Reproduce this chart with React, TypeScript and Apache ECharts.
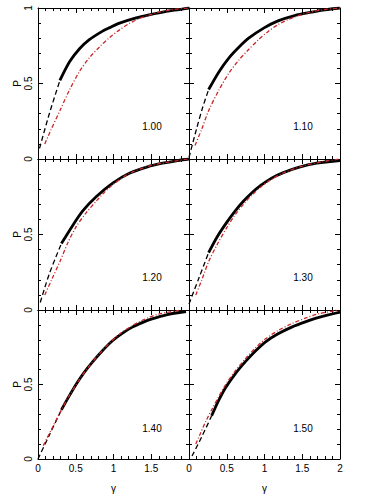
import React, { useEffect, useRef } from "react";
import * as echarts from "echarts";

const panelLabels = ["1.00", "1.10", "1.20", "1.30", "1.40", "1.50"];
const xTicks = [0, 0.5, 1, 1.5, 2];
const yTicks = [0, 0.5, 1];

const blackDash1 = [[0.02, 0.07], [0.15, 0.3], [0.29, 0.52]];
const blackSolid1 = [[0.29, 0.52], [0.42, 0.645], [0.55, 0.73], [0.68, 0.79], [0.85, 0.845], [0.95, 0.87], [1.08, 0.9], [1.3, 0.935], [1.47, 0.955], [1.7, 0.978], [1.87, 0.99], [2, 1.0]];
const red1 = [[0.09, 0.1], [0.16, 0.18], [0.29, 0.32], [0.42, 0.46], [0.55, 0.58], [0.68, 0.67], [0.82, 0.745], [0.95, 0.805], [1.08, 0.855], [1.2, 0.895], [1.34, 0.93], [1.47, 0.953], [1.6, 0.972], [1.8, 0.99], [2, 1.0]];

const blackDash2 = [[0.0, 0.01], [0.1, 0.2], [0.18, 0.34], [0.26, 0.46]];
const blackSolid2 = [[0.26, 0.46], [0.4, 0.58], [0.53, 0.67], [0.66, 0.74], [0.79, 0.8], [1.0, 0.87], [1.18, 0.915], [1.4, 0.95], [1.62, 0.972], [1.8, 0.988], [2, 1.0]];
const red2 = [[0.08, 0.09], [0.17, 0.2], [0.26, 0.32], [0.4, 0.46], [0.53, 0.57], [0.66, 0.655], [0.79, 0.725], [0.92, 0.79], [1.05, 0.845], [1.18, 0.89], [1.32, 0.925], [1.45, 0.95], [1.6, 0.972], [1.8, 0.99], [2, 1.0]];

const blackDash3 = [[0.03, 0.05], [0.15, 0.24], [0.31, 0.44]];
const blackSolid3 = [[0.31, 0.44], [0.46, 0.56], [0.59, 0.655], [0.77, 0.75], [0.99, 0.84], [1.21, 0.905], [1.45, 0.948], [1.65, 0.972], [1.85, 0.99], [2, 1.0]];
const red3 = [[0.09, 0.1], [0.18, 0.2], [0.29, 0.32], [0.4, 0.45], [0.51, 0.555], [0.64, 0.645], [0.77, 0.72], [0.88, 0.78], [0.99, 0.83], [1.1, 0.87], [1.21, 0.905], [1.45, 0.95], [1.7, 0.978], [2, 1.0]];

const blackDash4 = [[0.0, 0.04], [0.13, 0.21], [0.26, 0.38]];
const blackSolid4 = [[0.26, 0.38], [0.38, 0.49], [0.5, 0.58], [0.61, 0.655], [0.72, 0.72], [0.83, 0.775], [0.95, 0.825], [1.1, 0.875], [1.25, 0.91], [1.45, 0.945], [1.69, 0.972], [2, 0.99]];
const red4 = [[0.09, 0.1], [0.17, 0.2], [0.26, 0.32], [0.38, 0.44], [0.5, 0.545], [0.61, 0.63], [0.72, 0.7], [0.83, 0.76], [0.95, 0.815], [1.1, 0.868], [1.25, 0.908], [1.5, 0.953], [1.75, 0.98], [2, 1.0]];

const blackDash5 = [[0.0, 0.0], [0.15, 0.16], [0.31, 0.33]];
const blackSolid5 = [[0.31, 0.33], [0.41, 0.42], [0.51, 0.505], [0.61, 0.58], [0.72, 0.65], [0.85, 0.725], [0.99, 0.795], [1.12, 0.845], [1.25, 0.885], [1.38, 0.915], [1.51, 0.94], [1.7, 0.968], [1.96, 0.99]];
const red5 = [[0.07, 0.09], [0.18, 0.2], [0.29, 0.31], [0.42, 0.43], [0.55, 0.535], [0.68, 0.625], [0.82, 0.71], [0.95, 0.78], [1.08, 0.838], [1.21, 0.883], [1.34, 0.92], [1.47, 0.95], [1.6, 0.973], [1.87, 0.998]];

const blackDash6 = [[0.04, 0.02], [0.17, 0.15], [0.3, 0.29]];
const blackSolid6 = [[0.3, 0.29], [0.39, 0.39], [0.48, 0.475], [0.61, 0.57], [0.75, 0.655], [0.88, 0.725], [1.01, 0.785], [1.18, 0.84], [1.36, 0.885], [1.54, 0.92], [1.72, 0.95], [2, 0.985]];
const red6 = [[0.09, 0.1], [0.15, 0.17], [0.22, 0.25], [0.3, 0.33], [0.39, 0.415], [0.48, 0.495], [0.61, 0.59], [0.75, 0.675], [0.88, 0.745], [1.01, 0.805], [1.18, 0.862], [1.36, 0.908], [1.54, 0.945], [1.72, 0.975], [1.96, 0.998]];

const blackDashes = [blackDash1, blackDash2, blackDash3, blackDash4, blackDash5, blackDash6];
const blackSolids = [blackSolid1, blackSolid2, blackSolid3, blackSolid4, blackSolid5, blackSolid6];
const reds = [red1, red2, red3, red4, red5, red6];

const FONT = "Liberation Sans, Arial, sans-serif";

export default function App() {
  const ref = useRef<HTMLDivElement>(null);
  useEffect(() => {
    if (!ref.current) return;
    const chart = echarts.init(ref.current, null, { renderer: "svg" });
    const lefts = [38, 189];
    const tops = [8, 159, 310];
    const W = 151;
    const H = 151;
    const grids: any[] = [];
    const xAxes: any[] = [];
    const yAxes: any[] = [];
    const series: any[] = [];
    const graphics: any[] = [];
    const axisCommon = {
      type: "value",
      axisLine: { show: true, onZero: false, lineStyle: { color: "#000", width: 1 } },
      axisTick: { show: true, inside: true, length: 5, lineStyle: { color: "#000", width: 1 } },
      minorTick: { show: true, splitNumber: 5, length: 3, lineStyle: { color: "#000", width: 1 } },
      splitLine: { show: false },
      minorSplitLine: { show: false },
    };
    for (let i = 0; i < 6; i++) {
      const r = Math.floor(i / 2);
      const c = i % 2;
      grids.push({ left: lefts[c], top: tops[r], width: W, height: H });
      const showX = r === 2;
      xAxes.push({
        ...axisCommon,
        gridIndex: i,
        position: "bottom",
        min: xTicks[0],
        max: xTicks[xTicks.length - 1],
        interval: 0.5,
        axisLabel: {
          show: showX,
          showMaxLabel: c === 1,
          fontSize: 10,
          fontFamily: FONT,
          color: "#000",
          margin: 4,
        },
        name: showX ? "γ" : "",
        nameLocation: "middle",
        nameGap: 24,
        nameTextStyle: { fontSize: 10, fontFamily: FONT, color: "#000" },
      });
      xAxes.push({
        ...axisCommon,
        gridIndex: i,
        position: "top",
        min: 0,
        max: 2,
        interval: 0.5,
        axisLabel: { show: false },
      });
      const showY = c === 0;
      yAxes.push({
        ...axisCommon,
        gridIndex: i,
        position: "left",
        min: yTicks[0],
        max: yTicks[yTicks.length - 1],
        interval: 0.5,
        axisLabel: {
          show: showY,
          showMaxLabel: r === 0,
          rotate: 90,
          fontSize: 10,
          fontFamily: FONT,
          color: "#000",
          margin: 5,
        },
        name: showY ? "P" : "",
        nameLocation: "middle",
        nameRotate: 90,
        nameGap: 15,
        nameTextStyle: { fontSize: 10, fontFamily: FONT, color: "#000" },
      });
      yAxes.push({
        ...axisCommon,
        gridIndex: i,
        position: "right",
        min: 0,
        max: 1,
        interval: 0.5,
        axisLabel: { show: false },
      });
      series.push({
        type: "line",
        xAxisIndex: 2 * i,
        yAxisIndex: 2 * i,
        data: blackDashes[i],
        smooth: 0.3,
        symbol: "none",
        lineStyle: { color: "#000", width: 1.3, type: [5, 3] },
      });
      series.push({
        type: "line",
        xAxisIndex: 2 * i,
        yAxisIndex: 2 * i,
        data: blackSolids[i],
        smooth: 0.3,
        symbol: "none",
        lineStyle: { color: "#000", width: 2.8 },
      });
      series.push({
        type: "line",
        xAxisIndex: 2 * i,
        yAxisIndex: 2 * i,
        data: reds[i],
        smooth: 0.3,
        symbol: "none",
        lineStyle: { color: "#c62828", width: 1.3, type: [4, 2, 1, 2] },
      });
      graphics.push({
        type: "text",
        x: lefts[c] + 114,
        y: tops[r] + 118,
        style: {
          text: panelLabels[i],
          fontSize: 10,
          fontFamily: FONT,
          fill: "#000",
          textAlign: "center",
          textVerticalAlign: "middle",
        },
      });
    }
    chart.setOption({
      animation: false,
      backgroundColor: "#fff",
      grid: grids,
      xAxis: xAxes,
      yAxis: yAxes,
      series,
      graphic: graphics,
    });
    return () => chart.dispose();
  }, []);
  return (
    <div
      ref={ref}
      style={{ position: "fixed", left: 0, top: 0, width: 370, height: 494, background: "#fff" }}
    />
  );
}
